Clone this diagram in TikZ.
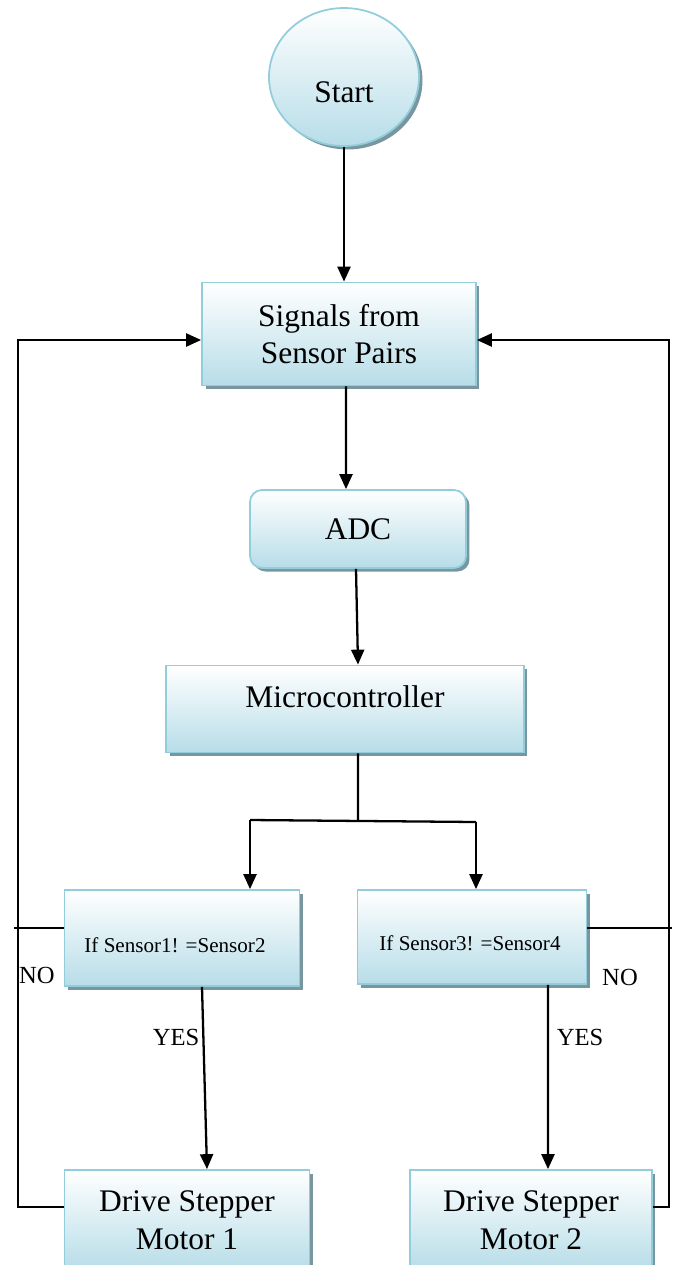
\documentclass[tikz,border=0pt]{standalone}
\usepackage{fontspec}
\setmainfont{Liberation Serif}
\usetikzlibrary{arrows.meta,shapes.geometric,shadows}

\definecolor{boxline}{RGB}{146,205,220}
\definecolor{boxfill}{RGB}{183,221,232}
\definecolor{boxshade}{RGB}{120,150,160}

\begin{document}
\begin{tikzpicture}[x=0.02cm,y=-0.02cm,
    block/.style={draw=boxline,line width=1pt,top color=white,bottom color=boxfill,
        drop shadow={shadow xshift=0.07cm,shadow yshift=-0.07cm,fill=boxshade,opacity=1},
        align=center,font=\fontsize{17.9}{21.5}\selectfont},
    test/.style={block,font=\fontsize{12}{14}\selectfont,text depth=0cm},
    arr/.style={line width=1.3pt,-{Triangle[length=0.3cm,width=0.26cm]}},
    line/.style={line width=1.3pt},
    tag/.style={font=\fontsize{14}{16}\selectfont}
]
\clip (0,0) rectangle (677,1265);

\node[block,ellipse,minimum width=3cm,minimum height=2.76cm,text depth=0cm,text height=1.04cm] (start) at (344,77) {Start};
\node[block,minimum width=5.48cm,minimum height=2.06cm] (sig) at (339,334) {Signals from\\Sensor Pairs};
\node[block,rounded corners=0.24cm,minimum width=4.32cm,minimum height=1.56cm] (adc) at (358,529) {ADC};
\node[block,minimum width=7.16cm,minimum height=1.74cm,text depth=0.5cm] (micro) at (345,709) {Microcontroller};
\node[test,text height=0.56cm,minimum width=4.7cm,minimum height=1.92cm] (if1) at (182,938) {If Sensor1! =Sensor2\hspace*{0.28cm}};
\node[test,text height=0.52cm,minimum width=4.58cm,minimum height=1.88cm] (if2) at (472,937) {If Sensor3! =Sensor4\hspace*{0.08cm}};
\node[block,minimum width=4.9cm,minimum height=2cm] (drv1) at (187,1220) {Drive Stepper\\Motor 1};
\node[block,minimum width=4.84cm,minimum height=2cm] (drv2) at (531,1220) {Drive Stepper\\Motor 2};

% main flow
\draw[arr] (start.south) -- (start.south |- sig.north);
\draw[arr] ([xshift=0.14cm]sig.south) -- ([xshift=-0.24cm]adc.north);
\draw[arr] ([xshift=-0.04cm]adc.south) -- ([xshift=0.26cm]micro.north);

% split to the two tests
\coordinate (split) at (358,820);
\coordinate (bl) at (250,820);
\coordinate (br) at (476,822);
\draw[line] ([xshift=0.26cm]micro.south) -- (split);
\draw[line] (bl) -- (br);
\draw[arr] (bl) -- (bl |- if1.north);
\draw[arr] (br) -- (br |- if2.north);

% yes branches
\draw[arr] ([xshift=0.4cm]if1.south) -- ([xshift=0.4cm]drv1.north);
\draw[arr] ([xshift=1.52cm]if2.south) -- ([xshift=0.34cm]drv2.north);
\node[tag] (yes1) at (176,1037) {YES};
\node[tag] (yes2) at (580,1037) {YES};

% feedback loops
\coordinate (lft) at (18,340);
\coordinate (rgt) at (669,340);
\draw[arr] ([yshift=0.26cm]drv1.west) -| (lft) -- (lft -| sig.west);
\draw[arr] ([yshift=0.26cm]drv2.east) -| (rgt) -- (rgt -| sig.east);
\draw[line] ([yshift=0.2cm]if1.west) -- ++(-50,0);
\draw[line] ([yshift=0.18cm]if2.east) -- ++(85,0);
\node[tag] (no1) at (37,975) {NO};
\node[tag] (no2) at (620,977) {NO};
\end{tikzpicture}
\end{document}
